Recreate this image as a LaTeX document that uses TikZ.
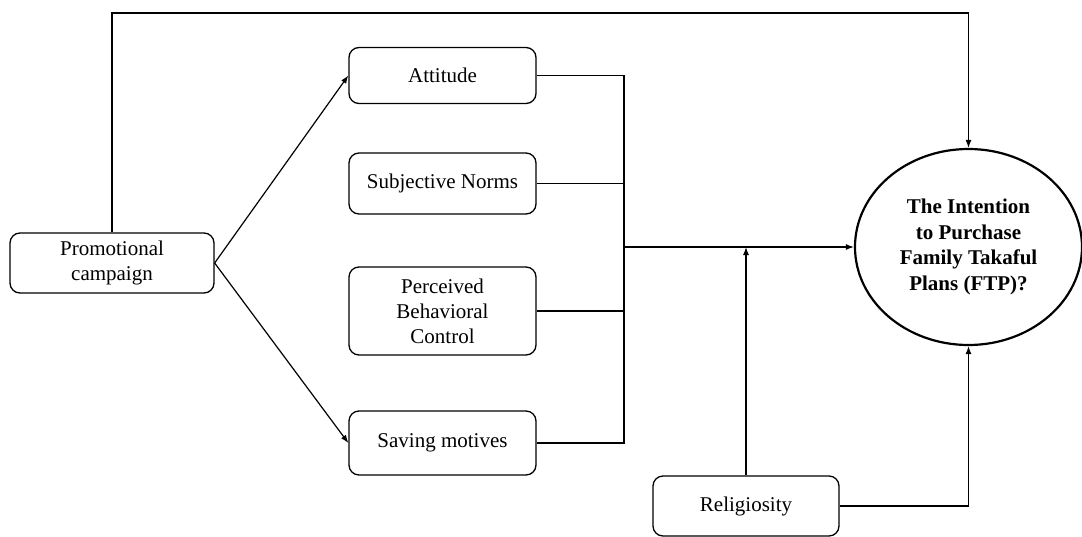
\documentclass[tikz,border=0pt]{standalone}
\usepackage{fontspec}
\setmainfont{Liberation Serif}
\usetikzlibrary{arrows.meta,shapes.geometric}
\begin{document}
\begin{tikzpicture}[x=1pt,y=-1pt,
  box/.style={draw,line width=1.3pt,rounded corners=10pt,align=center,inner sep=0pt,
    font=\fontsize{21}{25}\selectfont},
  conn/.style={line width=1.2pt},
  arr/.style={conn,-{Latex[length=8pt,width=6pt]}}]
\useasboundingbox (0,0) rectangle (1082,536);
\node[box,minimum width=204pt,minimum height=60pt] (promo) at (112,263) {Promotional\\campaign};
\node[box,minimum width=187pt,minimum height=56pt] (att) at (442.5,75.5) {Attitude};
\node[box,minimum width=187pt,minimum height=61pt] (sub) at (442.5,183.5) {Subjective Norms};
\node[box,minimum width=187pt,minimum height=88pt] (pbc) at (442.5,311) {Perceived\\Behavioral\\Control};
\node[box,minimum width=187pt,minimum height=64pt] (sav) at (442.5,443) {Saving motives};
\node[box,minimum width=186pt,minimum height=60pt] (rel) at (746,506) {Religiosity};
\node[draw,ellipse,line width=2.2pt,minimum width=227pt,minimum height=196pt,inner sep=0pt,align=center,
  font=\fontsize{21}{25.5}\selectfont\bfseries] (ftp) at (968.5,247) {The Intention\\to Purchase\\Family Takaful\\Plans (FTP)?};
\coordinate (topc) at (968.5,13);
\coordinate (bus) at (624,247);
\draw[arr] (promo.north) |- (topc) -- (ftp.north);
\draw[arr] (promo.east) -- (att.west);
\draw[arr] (promo.east) -- (sav.west);
\draw[conn] (att.east) -- (att.east -| bus) -- (sav.east -| bus) -- (sav.east);
\draw[conn] (sub.east) -- (sub.east -| bus);
\draw[conn] (pbc.east) -- (pbc.east -| bus);
\draw[arr] (bus) -- (ftp.west);
\draw[arr] (rel.north) -- (rel.north |- bus);
\draw[arr] (rel.east) -| (ftp.south);
\end{tikzpicture}
\end{document}
